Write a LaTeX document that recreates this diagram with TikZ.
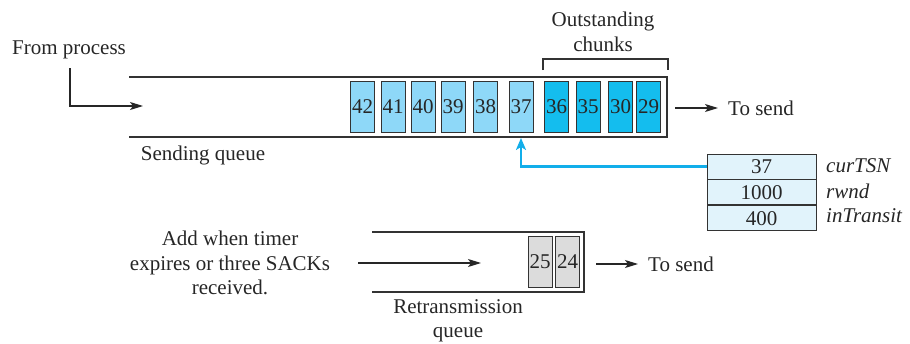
\documentclass[tikz,border=0pt]{standalone}
\usepackage{fontspec}
\setmainfont{Liberation Serif}
\usetikzlibrary{arrows.meta}
\definecolor{lblue}{HTML}{8ED8F8}
\definecolor{dblue}{HTML}{14BDEE}
\definecolor{vblue}{HTML}{E1F3FB}
\definecolor{cgray}{HTML}{DCDCDC}
\definecolor{edge}{HTML}{333333}
\definecolor{arrblue}{HTML}{12AEEA}
\begin{document}
\begin{tikzpicture}[x=1pt,y=-1pt,
  every node/.style={font=\fontsize{21}{24.5}\selectfont, inner sep=0pt, text=black!85},
  chunk/.style={draw=edge, line width=0.9pt, minimum width=24pt, minimum height=51pt},
  pend/.style={chunk, fill=lblue},
  outst/.style={chunk, fill=dblue},
  retx/.style={chunk, fill=cgray},
  varcell/.style={draw=edge, line width=0.9pt, fill=vblue, minimum width=109pt, minimum height=25pt},
  varlab/.style={anchor=west, font=\fontsize{21}{24.5}\selectfont\itshape},
  qline/.style={draw=black!80, line width=1.3pt},
  arr/.style={draw=black!85, line width=1.2pt, -{Stealth[length=13pt,width=8pt,inset=3pt]}},
  lbl/.style={align=center}
]
\useasboundingbox (0,0) rectangle (910,343);

% Sending queue outline
\draw[qline] (129,77) -- (667,77) -- (667,137) -- (129,137);

% chunks in sending queue
\node[pend] (c42) at (362.5,107) {42};
\node[pend] (c41) at (393,107) {41};
\node[pend] (c40) at (423,107) {40};
\node[pend] (c39) at (453,107) {39};
\node[pend] (c38) at (485.5,107) {38};
\node[pend] (c37) at (521,107) {37};
\node[outst] (c36) at (556.5,107) {36};
\node[outst] (c35) at (588,107) {35};
\node[outst] (c30) at (620.5,107) {30};
\node[outst] (c29) at (648.5,107) {29};

% Outstanding bracket
\coordinate (bl) at (543,70);
\coordinate (br) at (668,70);
\coordinate (blt) at (543,59);
\coordinate (brt) at (668,59);
\draw[line width=1.2pt, draw=black!80] (bl) -- (blt) -- (brt) -- (br);
\node[lbl] (outlbl) at (603,32) {Outstanding\\chunks};

% From process
\node (fromp) at (69,50) {From process};
\coordinate (fpin) at (143,106);
\draw[arr] (70,68) |- (fpin);

% Sending queue label
\node (sq) at (203,155) {Sending queue};

% To send (upper)
\node[anchor=west] (ts1) at (728,108) {To send};
\coordinate (ts1a) at (675,108);
\draw[arr] (ts1a) -- ([xshift=-10pt]ts1.west);

% Variable box
\node[varcell] (vcur) at (761.5,166.5) {37};
\node[varcell, anchor=north] (vrwnd) at (vcur.south) {1000};
\node[varcell, anchor=north] (vin) at (vrwnd.south) {400};
\node[varlab] (lcur) at (826,166) {curTSN};
\node[varlab] (lrwnd) at (826,191) {rwnd};
\node[varlab] (lin) at (826,216) {inTransit};

% blue pointer arrow
\draw[draw=arrblue, line width=2.9pt, -{Stealth[length=12pt,width=10pt,inset=3pt]}] (vcur.west) -| ([yshift=-5pt]c37.south);

% Retransmission queue outline
\draw[qline] (372,232) -- (584,232) -- (584,292) -- (372,292);
\node[retx] (c25) at (540,261.5) {25};
\node[retx] (c24) at (567.5,261.5) {24};

% Add when timer ...
\node[lbl] (addlbl) at (230,263) {Add when timer\\expires or three SACKs\\received.};
\coordinate (rxa) at (358,263);
\coordinate (rxb) at (481,263);
\draw[arr] (rxa) -- (rxb);

% To send (lower)
\node[anchor=west] (ts2) at (648,264) {To send};
\coordinate (ts2a) at (596,264);
\draw[arr] (ts2a) -- ([xshift=-10pt]ts2.west);

% Retransmission queue label
\node[lbl] (rql) at (458,321) {Retransmission\\queue};
\end{tikzpicture}
\end{document}
